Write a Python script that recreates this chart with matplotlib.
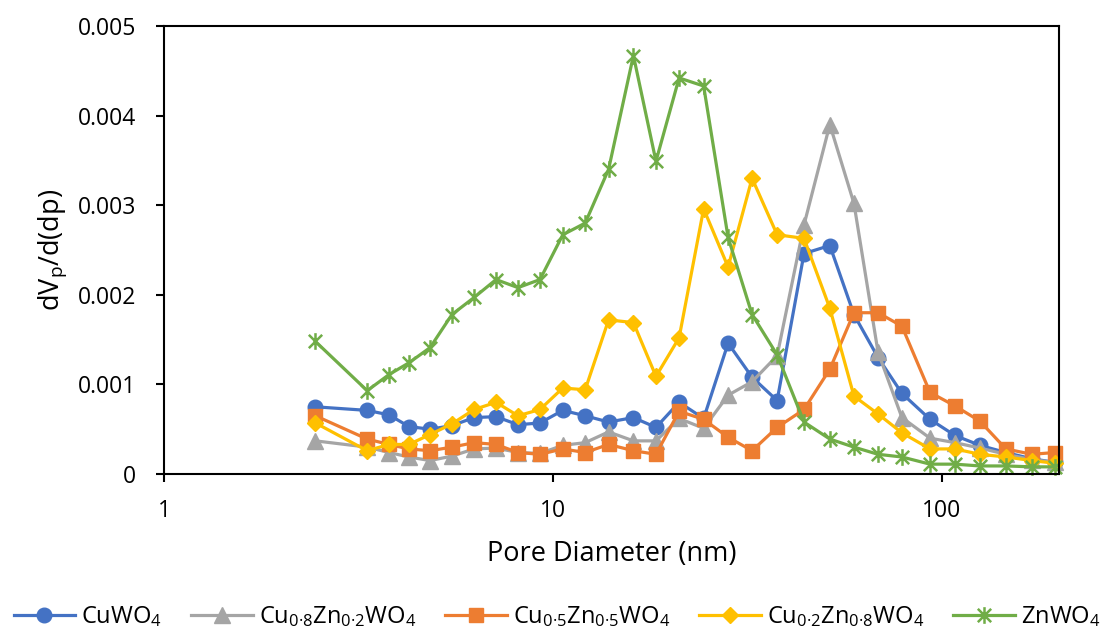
import matplotlib
matplotlib.use("Agg")
import matplotlib.pyplot as plt
from matplotlib.path import Path
from matplotlib.ticker import FixedLocator, NullLocator

plt.rcParams['font.family'] = ['Open Sans', 'DejaVu Sans']
plt.rcParams['mathtext.fontset'] = 'custom'
plt.rcParams['mathtext.rm'] = 'Open Sans'
plt.rcParams['mathtext.it'] = 'Open Sans'

# Pore diameters (nm), shared by every sample
pore_diameter = [2.45, 3.33, 3.79, 4.26, 4.83, 5.50, 6.27, 7.14, 8.13, 9.26,
                 10.6, 12.1, 13.9, 16.1, 18.4, 21.1, 24.4, 28.2, 32.5, 37.7,
                 44.2, 51.5, 59.4, 68.5, 78.9, 93.2, 108.0, 125.2, 146.0, 170.3, 195.2]

cuwo4 = [0.00075, 0.00071, 0.00066, 0.00053, 0.00050, 0.00054, 0.00063, 0.00064, 0.00055, 0.00057,
         0.00071, 0.00065, 0.00058, 0.00063, 0.00052, 0.00080, 0.00062, 0.00146, 0.00108, 0.00082,
         0.00246, 0.00255, 0.00178, 0.00130, 0.00090, 0.00061, 0.00043, 0.00032, 0.00024, 0.00017, 0.00013]

cu08zn02 = [0.00037, 0.00030, 0.00024, 0.00019, 0.00015, 0.00020, 0.00028, 0.00029, 0.00024, 0.00023,
            0.00032, 0.00035, 0.00047, 0.00037, 0.00037, 0.00062, 0.00051, 0.00088, 0.00103, 0.00132,
            0.00278, 0.00390, 0.00302, 0.00136, 0.00063, 0.00040, 0.00035, 0.00029, 0.00022, 0.00016, 0.00013]

cu05zn05 = [0.00065, 0.00039, 0.00033, 0.00028, 0.00026, 0.00030, 0.00035, 0.00033, 0.00024, 0.00022,
            0.00028, 0.00024, 0.00033, 0.00026, 0.00022, 0.00070, 0.00061, 0.00041, 0.00026, 0.00052,
            0.00072, 0.00117, 0.00180, 0.00180, 0.00165, 0.00091, 0.00076, 0.00059, 0.00028, 0.00022, 0.00024]

cu02zn08 = [0.00057, 0.00026, 0.00033, 0.00033, 0.00044, 0.00056, 0.00072, 0.00080, 0.00065, 0.00072,
            0.00096, 0.00094, 0.00172, 0.00169, 0.00109, 0.00152, 0.00296, 0.00231, 0.00330, 0.00267,
            0.00263, 0.00185, 0.00087, 0.00067, 0.00046, 0.00028, 0.00028, 0.00022, 0.00019, 0.00015, 0.00012]

znwo4 = [0.00148, 0.00093, 0.00111, 0.00124, 0.00141, 0.00178, 0.00197, 0.00217, 0.00208, 0.00217,
         0.00267, 0.00280, 0.00340, 0.00467, 0.00349, 0.00442, 0.00433, 0.00264, 0.00178, 0.00133,
         0.00058, 0.00039, 0.00030, 0.00022, 0.00019, 0.00011, 0.00011, 0.00009, 0.00009, 0.00008, 0.00008]

labels = ['CuWO$_4$',
          'Cu$_{0{\u00b7}8}$Zn$_{0{\u00b7}2}$WO$_4$',
          'Cu$_{0{\u00b7}5}$Zn$_{0{\u00b7}5}$WO$_4$',
          'Cu$_{0{\u00b7}2}$Zn$_{0{\u00b7}8}$WO$_4$',
          'ZnWO$_4$']
colors = ['#4472C4', '#A5A5A5', '#ED7D31', '#FFC000', '#70AD47']

# Star marker: an X with a vertical bar through it
star = Path([(-1, -1), (1, 1), (-1, 1), (1, -1), (0, -1.25), (0, 1.25)],
            [Path.MOVETO, Path.LINETO, Path.MOVETO, Path.LINETO, Path.MOVETO, Path.LINETO])

fig = plt.figure(figsize=(11.05, 6.29), dpi=100)
ax = fig.add_axes([0.1484, 0.2464, 0.8100, 0.7123])

series = [cuwo4, cu08zn02, cu05zn05, cu02zn08, znwo4]
styles = [dict(marker='o', markersize=10.5),
          dict(marker='^', markersize=11),
          dict(marker='s', markersize=10),
          dict(marker='D', markersize=8.5),
          dict(marker=star, markersize=12, markeredgewidth=1.8, fillstyle='none')]

for vals, lab, col, st in zip(series, labels, colors, styles):
    ax.plot(pore_diameter, vals, color=col, linewidth=2.3, label=lab,
            markerfacecolor=col, markeredgecolor=col, clip_on=False, **st)

ax.set_xscale('log')
ax.set_xlim(1, 200)
ax.set_ylim(0, 0.005)
ax.xaxis.set_major_locator(FixedLocator([1, 10, 100]))
ax.xaxis.set_minor_locator(NullLocator())
ax.set_xticklabels(['1', '10', '100'])
ax.set_yticks([0, 0.001, 0.002, 0.003, 0.004, 0.005])
ax.set_yticklabels(['0', '0.001', '0.002', '0.003', '0.004', '0.005'])

for sp in ax.spines.values():
    sp.set_linewidth(1.5)
    sp.set_color('black')
ax.tick_params(axis='both', direction='out', length=6, width=1.5, labelsize=16.5,
               colors='black')
ax.tick_params(axis='x', pad=12)
ax.tick_params(axis='y', pad=14)

ax.set_xlabel('Pore Diameter (nm)', fontsize=19.5, labelpad=12)
ax.set_ylabel('dV$_\\mathregular{p}$/d(dp)', fontsize=19.5, labelpad=6)

fig.legend(loc='center', bbox_to_anchor=(0.504, 0.019), bbox_transform=fig.transFigure,
           ncol=5, frameon=False, fontsize=17, handlelength=2.6, columnspacing=1.25,
           handletextpad=0.25, borderpad=0)

fig.savefig('out.png', dpi=100)
